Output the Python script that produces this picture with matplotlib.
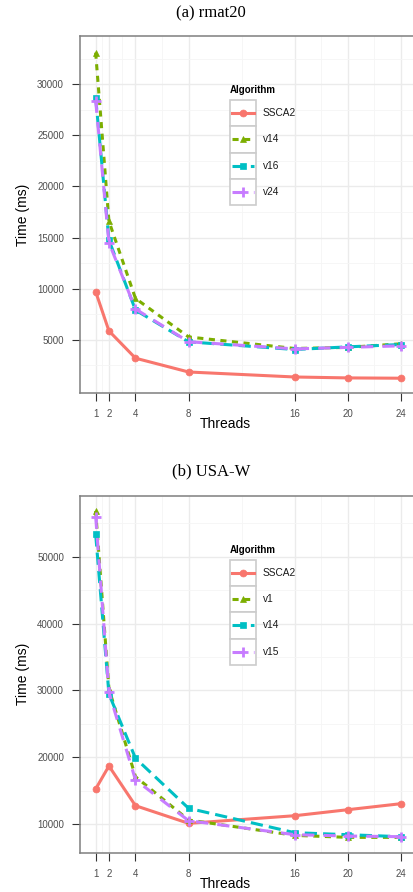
import matplotlib
matplotlib.use("Agg")
from matplotlib import pyplot as plt
from matplotlib.patches import Rectangle
from matplotlib.lines import Line2D

plt.rcParams["font.family"] = ["Liberation Sans", "DejaVu Sans"]

threads = [1, 2, 4, 8, 16, 20, 24]

# (a) rmat20
rmat_names = ["SSCA2", "v14", "v16", "v24"]
rmat_ssca2 = [9700, 5860, 3190, 1840, 1350, 1260, 1230]
rmat_v14 = [33100, 16600, 9040, 5270, 4140, 4250, 4600]
rmat_v16 = [28700, 14750, 7900, 4790, 4040, 4300, 4530]
rmat_v24 = [28400, 14500, 8000, 4800, 4100, 4250, 4400]

# (b) USA-W
usa_names = ["SSCA2", "v1", "v14", "v15"]
usa_ssca2 = [15240, 18680, 12740, 10100, 11240, 12140, 13040]
usa_v1 = [56840, 30250, 17080, 10600, 8300, 8000, 8000]
usa_v14 = [53350, 29450, 19840, 12350, 8700, 8400, 8100]
usa_v15 = [56000, 29700, 16600, 10500, 8400, 8200, 8100]

colors = ["#F8766D", "#7CAE00", "#00BFC4", "#C77CFF"]
markers = ["o", "^", "s", "+"]
dashes = [None, (2, 1.8), (4, 2), (4, 3)]

W, H = 414, 892
fig = plt.figure(figsize=(W / 100, H / 100), dpi=100)


def fx(x):
    return x / W


def fy(y):
    return 1 - y / H


def draw_panel(top_px, series, names, ylim, yticks, yminor, title, title_y):
    left_px = 80.4
    width_px = 335.8
    height_px = 357
    ax = fig.add_axes([fx(left_px), fy(top_px + height_px), width_px / W, height_px / H])
    ax.set_xlim(-0.15, 25.15)
    ax.set_ylim(*ylim)
    ax.set_xticks(threads)
    ax.set_xticks([1.5, 3, 6, 12, 18, 22], minor=True)
    ax.set_yticks(yticks)
    ax.set_yticks(yminor, minor=True)
    ax.grid(which="major", color="#EBEBEB", lw=1.0)
    ax.grid(which="minor", color="#F5F5F5", lw=0.6)
    ax.set_axisbelow(True)
    for s in ax.spines.values():
        s.set_color("#7F7F7F")
        s.set_linewidth(1.1)
    ax.tick_params(which="major", direction="out", length=5.8, width=0.8, color="#333333",
                   labelsize=7, labelcolor="#4D4D4D", pad=6)
    ax.tick_params(which="minor", length=0)

    for i, ys in enumerate(series):
        line, = ax.plot(threads, ys, color=colors[i], lw=2.2, marker=markers[i],
                        markersize=5 if markers[i] != "+" else 7,
                        markeredgewidth=2 if markers[i] == "+" else 0.5,
                        markeredgecolor=colors[i], zorder=3 + i)
        if dashes[i] is not None:
            line.set_dashes(dashes[i])
        line.set_solid_capstyle("butt")

    ax.set_xlabel("Threads", fontsize=10)
    ax.xaxis.set_label_coords((225 - left_px) / width_px, -31 / height_px)
    ax.xaxis.label.set_va("center")
    ax.set_ylabel("Time (ms)", fontsize=10)
    ax.yaxis.set_label_coords((23 - left_px) / width_px, 0.5)
    ax.yaxis.label.set_va("center")

    fig.text(fx(211), fy(title_y), title, family="Liberation Serif", fontsize=12,
             ha="center", va="center")

    # legend, ggplot style
    leg_top = top_px + 64
    fig.text(fx(230), fy(leg_top - 10), "Algorithm", fontsize=7, weight="bold",
             ha="left", va="center")
    key_h = 26.3
    for i, name in enumerate(names):
        y0 = leg_top + i * key_h
        fig.patches.append(Rectangle((fx(230), fy(y0 + key_h)), 26 / W, key_h / H,
                                     transform=fig.transFigure, facecolor="white",
                                     edgecolor="#CCCCCC", lw=1.2))
        yc = fy(y0 + key_h / 2)
        ln = Line2D([fx(232), fx(254)], [yc, yc], transform=fig.transFigure,
                    color=colors[i], lw=2.2)
        if dashes[i] is not None:
            ln.set_dashes(dashes[i])
        fig.lines.append(ln)
        mk = Line2D([fx(243)], [yc], transform=fig.transFigure, color=colors[i],
                    marker=markers[i], markersize=5 if markers[i] != "+" else 7,
                    markeredgewidth=2 if markers[i] == "+" else 0.5, linestyle="none")
        fig.lines.append(mk)
        fig.text(fx(263), yc, name, fontsize=7.3, ha="left", va="center", color="#1A1A1A")
    return ax


draw_panel(36, [rmat_ssca2, rmat_v14, rmat_v16, rmat_v24], rmat_names,
           (-217, 34728), [5000, 10000, 15000, 20000, 25000, 30000],
           [2500, 7500, 12500, 17500, 22500, 27500, 32500], "(a) rmat20", 13)
draw_panel(495.7, [usa_ssca2, usa_v1, usa_v14, usa_v15], usa_names,
           (5705, 59128), [10000, 20000, 30000, 40000, 50000],
           [15000, 25000, 35000, 45000, 55000], "(b) USA-W", 471)

plt.savefig("out.png", dpi=100)
